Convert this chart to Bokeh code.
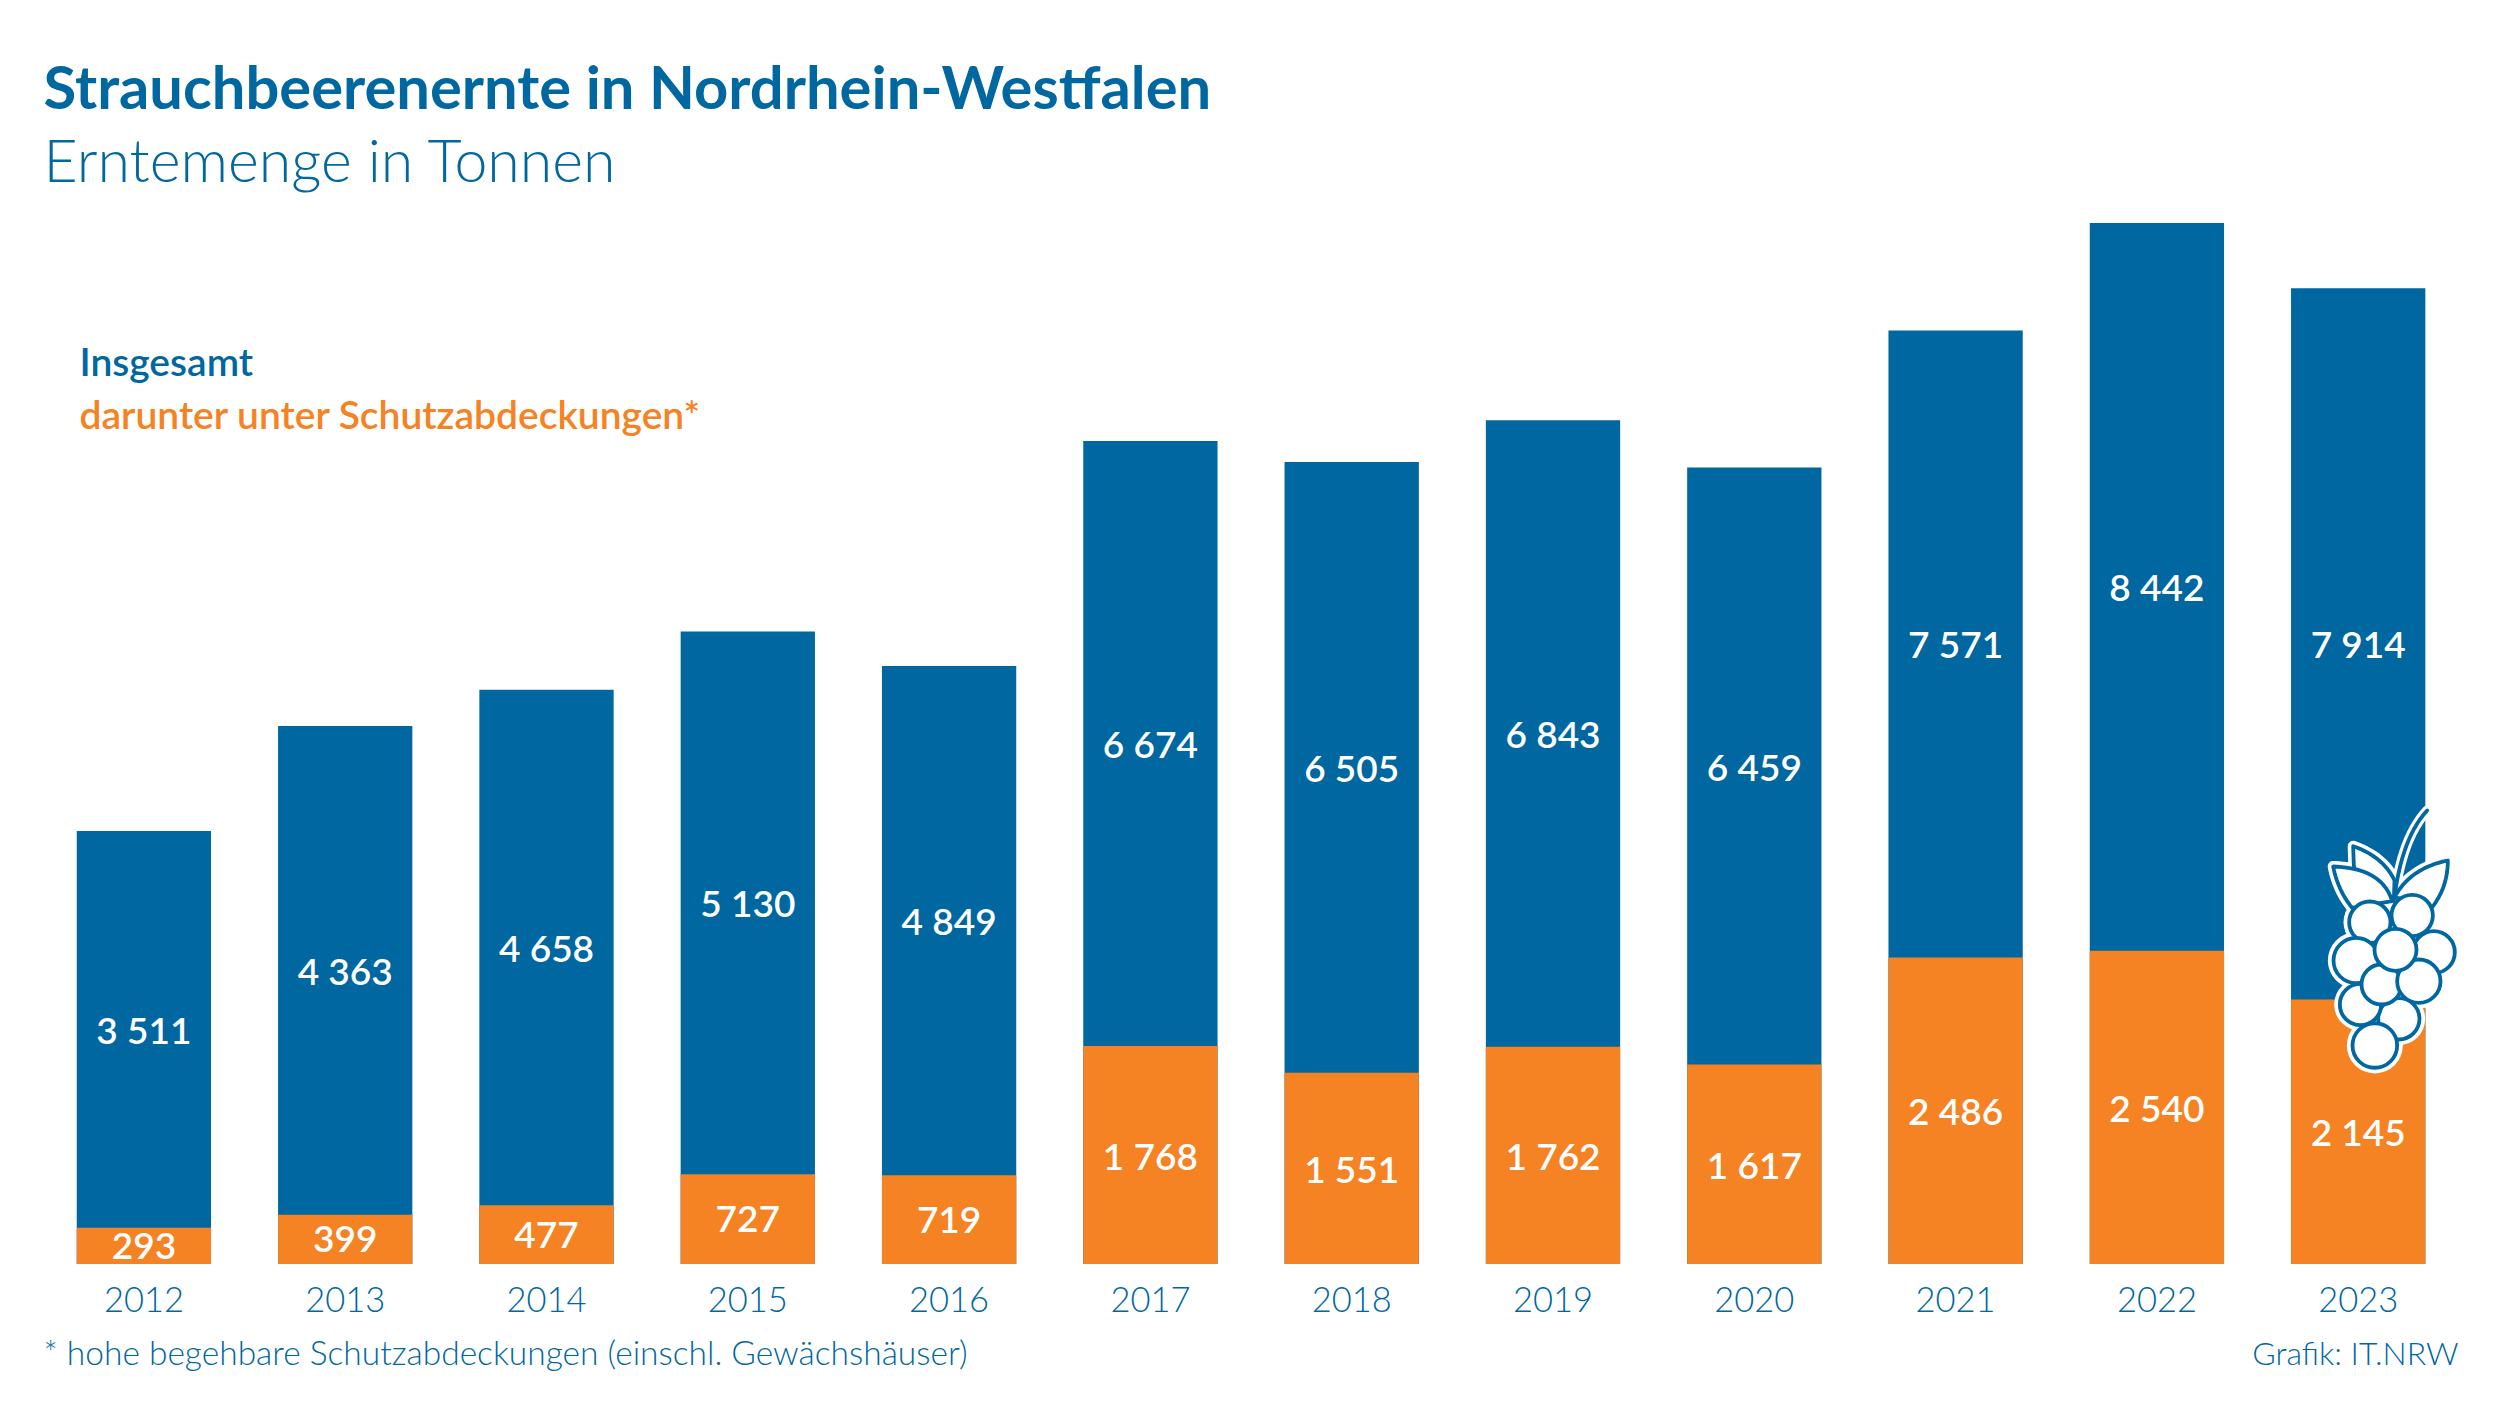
from bokeh.plotting import figure
from bokeh.embed import file_html
from bokeh.resources import INLINE
from bokeh.models import Range1d, Label, FixedTicker, ColumnDataSource
from bokeh.core.properties import value

# ---- data ----
years = [2012, 2013, 2014, 2015, 2016, 2017, 2018, 2019, 2020, 2021, 2022, 2023]
insgesamt = [3511, 4363, 4658, 5130, 4849, 6674, 6505, 6843, 6459, 7571, 8442, 7914]
geschuetzt = [293, 399, 477, 727, 719, 1768, 1551, 1762, 1617, 2486, 2540, 2145]
year_labels = [str(y) for y in years]

title = "Strauchbeerenernte in Nordrhein-Westfalen"
subtitle = "Erntemenge in Tonnen"
legend_total = "Insgesamt"
legend_sub = "darunter unter Schutzabdeckungen*"
footnote = "* hohe begehbare Schutzabdeckungen (einschl. Gewächshäuser)"
credit = "Grafik: IT.NRW"

# ---- style ----
BLUE = "#0067A0"
ORANGE = "#F58223"
FONT_B = "Lato"
FONT_M = "Lato Semibold"
FONT_L = "Lato Light"

W, H = 2484, 1390
BASE = 1263.5        # baseline in page pixels
X0, STEP = 143.4, 201.3
PX_PER_T = 0.1233

def fmt(v):
    s = str(v)
    return s[:-3] + "\u2005" + s[-3:] if len(s) > 3 else s

def year_at(px):
    return years[0] + (px - X0) / STEP

p = figure(width=W, height=H, output_backend="svg", toolbar_location=None,
           x_range=Range1d(year_at(0), year_at(W)),
           y_range=Range1d(-(H - BASE) / PX_PER_T, BASE / PX_PER_T),
           min_border_left=0, min_border_right=0, min_border_top=0,
           min_border_bottom=0, background_fill_color="white",
           border_fill_color="white", outline_line_color=None)
p.extra_x_ranges["px"] = Range1d(0, W)
p.extra_y_ranges["px"] = Range1d(H, 0)

p.xgrid.visible = False
p.ygrid.visible = False
p.yaxis.visible = False
ax = p.xaxis[0]
ax.fixed_location = 0
ax.ticker = FixedTicker(ticks=years)
ax.major_label_overrides = dict(zip(years, year_labels))
ax.axis_line_color = None
ax.major_tick_line_color = None
ax.minor_tick_line_color = None
ax.major_label_text_color = BLUE
ax.major_label_text_font = FONT_L
ax.major_label_text_font_size = "34.5px"
ax.major_label_standoff = 17

src = ColumnDataSource(dict(
    x=years, total=insgesamt, sub=geschuetzt,
    total_mid=[(t + s) / 2 for t, s in zip(insgesamt, geschuetzt)],
    sub_mid=[s / 2 for s in geschuetzt],
    total_txt=[fmt(v) for v in insgesamt],
    sub_txt=[fmt(v) for v in geschuetzt]))

BW = 134.3 / STEP
p.vbar(x="x", top="total", width=BW, source=src, fill_color=BLUE, line_color=None)
p.vbar(x="x", top="sub", width=BW, source=src, fill_color=ORANGE, line_color=None)
for y, t in (("total_mid", "total_txt"), ("sub_mid", "sub_txt")):
    p.text(x="x", y=y, text=t, source=src, text_color="white", text_align="center",
           text_baseline="middle", text_font=value(FONT_M), text_font_size="37px")

# ---- berry icon, in pixels of the zoomed reference crop ----
OX, OY = 2250, 780
def zx(a): return OX + a / 3
def zy(a): return OY + a / 3

def quad(a, c, b, n=14):
    out = []
    for i in range(n + 1):
        t = i / n
        out.append(((1-t)**2*a[0] + 2*t*(1-t)*c[0] + t*t*b[0],
                    (1-t)**2*a[1] + 2*t*(1-t)*c[1] + t*t*b[1]))
    return out

berries = [(550, 515, 63), (485, 405, 62), (358, 425, 62), (317, 540, 68), (445, 715, 62),
           (330, 672, 62), (373, 795, 67), (393, 612, 60), (505, 602, 65), (435, 508, 63)]
leaves = [
    quad((308, 197), (400, 230), (432, 300)) + [(430, 360), (320, 300), (310, 255)],
    quad((592, 240), (480, 262), (432, 350)) + [(545, 380)] + quad((545, 380), (592, 320), (592, 240)),
    quad((248, 258), (395, 262), (425, 362)) + [(305, 382)] + quad((305, 382), (262, 330), (248, 258)),
]
stem = quad((432, 350), (455, 170), (530, 90))

def draw_px(fn, *a, **k):
    return fn(*a, x_range_name="px", y_range_name="px", **k)

# white halo first
draw_px(p.circle, [zx(b[0]) for b in berries], [zy(b[1]) for b in berries],
        radius=[(b[2] + 17) / 3 for b in berries], fill_color="white", line_color=None)
for lf in leaves:
    draw_px(p.patch, [zx(q[0]) for q in lf], [zy(q[1]) for q in lf],
            fill_color="white", line_color="white", line_width=11, line_join="round")
draw_px(p.line, [zx(q[0]) for q in stem], [zy(q[1]) for q in stem],
        line_color="white", line_width=10, line_cap="round")
# outlines
for lf in leaves:
    draw_px(p.patch, [zx(q[0]) for q in lf], [zy(q[1]) for q in lf],
            fill_color="white", line_color=BLUE, line_width=3.8, line_join="round")
draw_px(p.line, [zx(q[0]) for q in stem], [zy(q[1]) for q in stem],
        line_color=BLUE, line_width=3.8, line_cap="round")
for b in berries:
    draw_px(p.circle, [zx(b[0])], [zy(b[1])], radius=b[2] / 3,
            fill_color="white", line_color=BLUE, line_width=3.8)

# ---- texts ----
def label(txt, x, y, size, color, font, style="normal", align="left"):
    p.add_layout(Label(x=x, y=y - 0.385 * size, text=txt, x_range_name="px", y_range_name="px",
                       text_color=color, text_font=font, text_font_size=f"{size}px",
                       text_font_style=style, text_align=align, text_baseline="alphabetic"))

label(title, 43, 108, 59.7, BLUE, FONT_B, "bold")
label(subtitle, 43, 182, 59, BLUE, FONT_L)
label(legend_total, 79, 375.5, 39, BLUE, FONT_M)
label(legend_sub, 79, 428.5, 39, ORANGE, FONT_M)
label(footnote, 43, 1364, 33.5, BLUE, FONT_L)
label(credit, 2458, 1364, 32, BLUE, FONT_L, align="right")

open("out.html", "w").write(file_html(p, INLINE))
